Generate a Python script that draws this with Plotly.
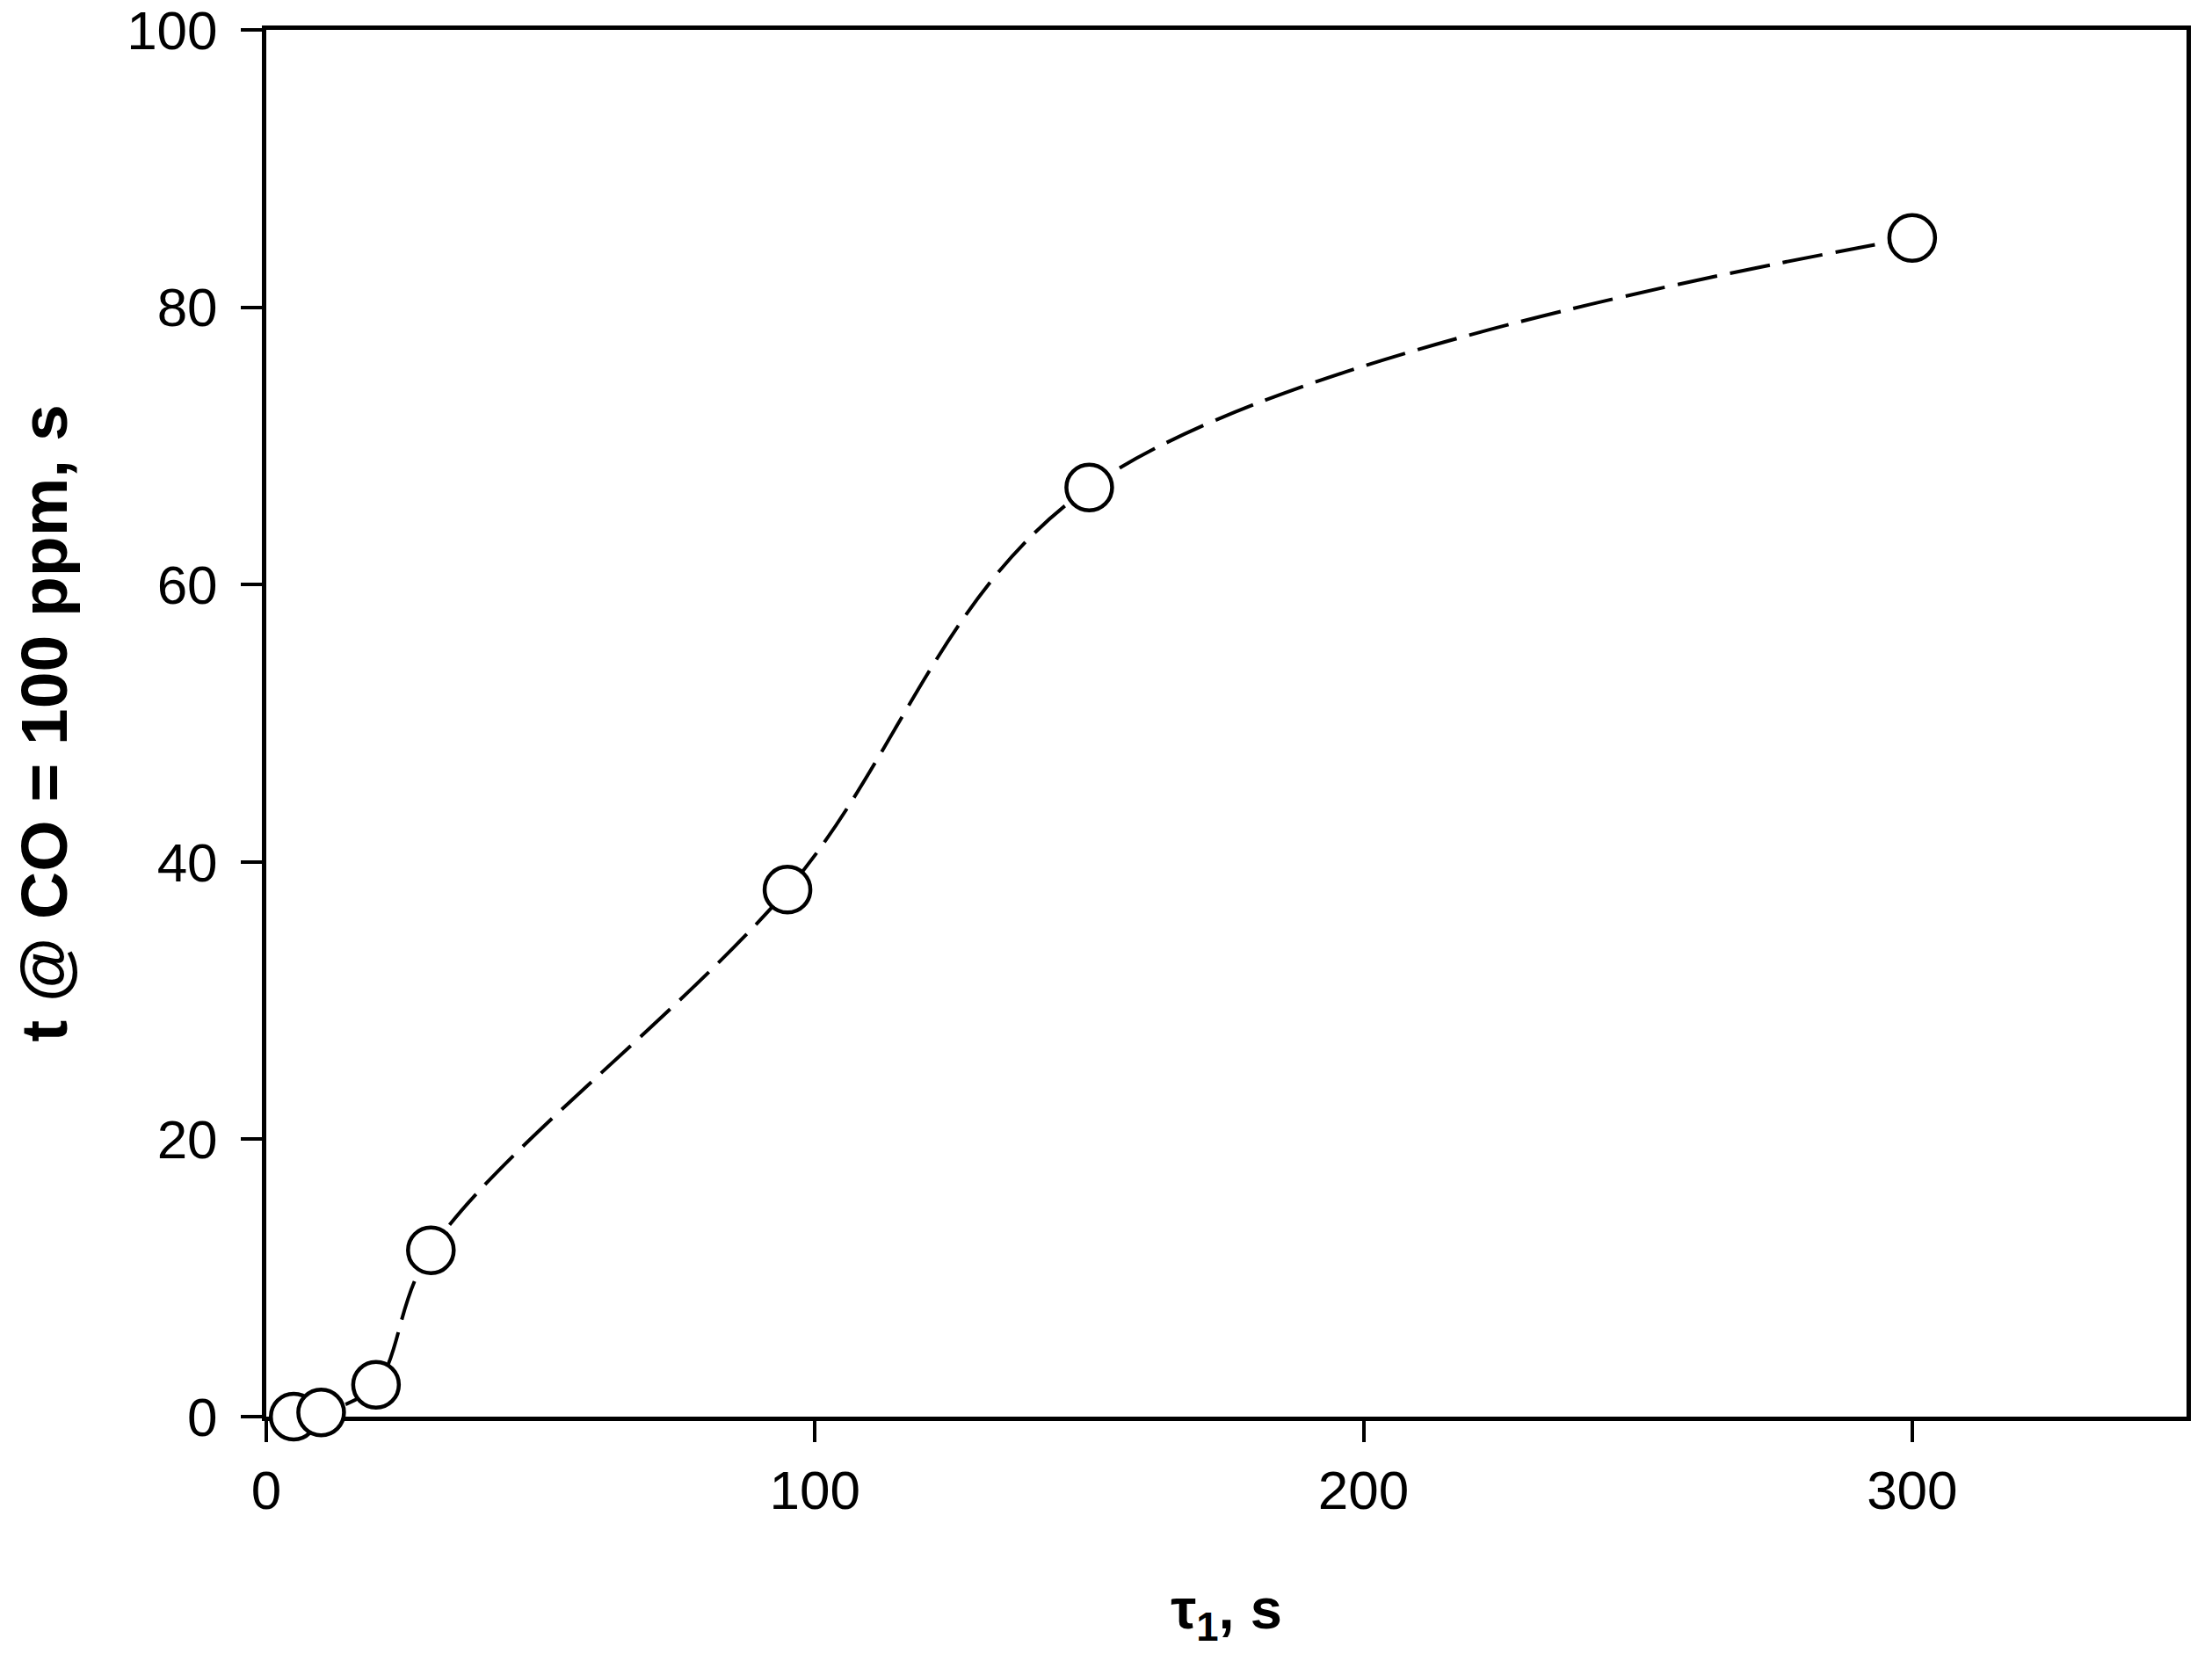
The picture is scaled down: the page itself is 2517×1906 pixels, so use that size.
# Time to reach CO = 100 ppm against tau_1, scatter with a dashed smooth line
import plotly.graph_objects as go

tau1 = [5, 10, 20, 30, 95, 150, 300]
t_co100 = [0.0, 0.3, 2.3, 12.0, 38.0, 67.0, 85.0]

x_ticks = [0, 100, 200, 300]
y_ticks = [0, 20, 40, 60, 80, 100]

font_name = "Liberation Sans, Arial, sans-serif"

fig = go.Figure()

fig.add_trace(go.Scatter(
    x=tau1, y=t_co100, mode="lines+markers",
    line=dict(color="black", width=4, dash="46px,15px", shape="spline", smoothing=1.0),
    marker=dict(symbol="circle", size=52, color="white", line=dict(color="black", width=4.5)),
    cliponaxis=False, showlegend=False,
))

axis_style = dict(
    showline=True, linecolor="black", linewidth=5, mirror=True,
    ticks="outside", ticklen=24, tickwidth=3.5, tickcolor="black",
    showgrid=False, zeroline=False, automargin=False,
    tickfont=dict(family=font_name, size=62, color="black"),
    ticklabeloverflow="allow",
    layer="below traces",
)

fig.update_xaxes(range=[0, 350], tickvals=x_ticks, ticklabelstandoff=2,
                 title=dict(text="<b>τ<sub>1</sub>, s</b>", standoff=80,
                            font=dict(family=font_name, size=65, color="black")),
                 **axis_style)
fig.update_yaxes(range=[0, 100], tickvals=y_ticks, ticklabelstandoff=14,
                 title=dict(text="<b>t @ CO = 100 ppm, s</b>", standoff=70,
                            font=dict(family=font_name, size=75, color="black")),
                 **axis_style)

# the page body adds an 8px margin, so the figure is sized to sit inside the window
fig.update_layout(
    width=2501, height=1890,
    margin=dict(l=295, r=21, t=26, b=286),
    paper_bgcolor="white", plot_bgcolor="white",
    font=dict(family=font_name, color="black"),
)

fig.write_html("out.html", config={"displayModeBar": False})
